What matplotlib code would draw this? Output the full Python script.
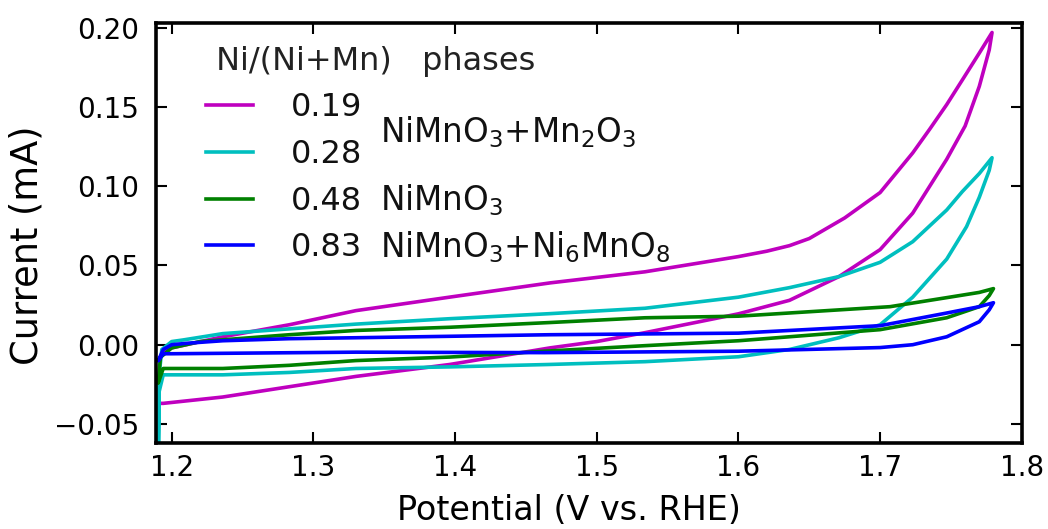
import matplotlib
matplotlib.use("Agg")
import matplotlib.pyplot as plt
from matplotlib.lines import Line2D

# ---- data ----
ratios = ["0.19", "0.28", "0.48", "0.83"]
colors = ["#bf00bf", "#00bfbf", "#008000", "#0000ff"]

# 0.19 (magenta)
m_up_v = [1.1905, 1.195, 1.20, 1.236, 1.283, 1.33, 1.396, 1.467, 1.534, 1.60, 1.62, 1.636, 1.65, 1.675, 1.70, 1.723, 1.735, 1.747, 1.758, 1.770, 1.779]
m_up_i = [-0.010, -0.004, -0.002, 0.005, 0.0126, 0.0215, 0.030, 0.039, 0.046, 0.0556, 0.059, 0.0625, 0.067, 0.080, 0.096, 0.121, 0.136, 0.1515, 0.167, 0.184, 0.197]
m_lo_v = [1.779, 1.777, 1.770, 1.760, 1.747, 1.723, 1.70, 1.671, 1.636, 1.60, 1.569, 1.534, 1.50, 1.467, 1.396, 1.33, 1.283, 1.236, 1.194, 1.1905]
m_lo_i = [0.197, 0.186, 0.163, 0.138, 0.117, 0.083, 0.060, 0.043, 0.028, 0.0195, 0.0139, 0.0076, 0.002, -0.002, -0.0125, -0.020, -0.0265, -0.033, -0.037, -0.037]

# 0.28 (cyan)
c_up_v = [1.1905, 1.191, 1.193, 1.20, 1.208, 1.236, 1.283, 1.33, 1.396, 1.467, 1.534, 1.60, 1.636, 1.671, 1.70, 1.723, 1.747, 1.758, 1.770, 1.779]
c_up_i = [-0.080, -0.020, -0.003, 0.002, 0.003, 0.007, 0.010, 0.013, 0.0164, 0.0196, 0.023, 0.030, 0.036, 0.043, 0.052, 0.065, 0.085, 0.0966, 0.108, 0.118]
c_lo_v = [1.779, 1.777, 1.770, 1.761, 1.747, 1.723, 1.70, 1.671, 1.636, 1.60, 1.534, 1.465, 1.396, 1.33, 1.283, 1.236, 1.194, 1.191, 1.1905]
c_lo_i = [0.118, 0.110, 0.093, 0.0745, 0.054, 0.030, 0.0126, 0.0044, -0.003, -0.0076, -0.0107, -0.0125, -0.014, -0.015, -0.0175, -0.019, -0.019, -0.030, -0.080]

# 0.48 (green)
g_up_v = [1.1905, 1.192, 1.20, 1.22, 1.283, 1.33, 1.396, 1.467, 1.534, 1.60, 1.707, 1.747, 1.770, 1.780]
g_up_i = [-0.024, -0.008, -0.002, 0.002, 0.0063, 0.009, 0.011, 0.014, 0.017, 0.018, 0.024, 0.0297, 0.033, 0.0354]
g_lo_v = [1.780, 1.777, 1.770, 1.747, 1.70, 1.60, 1.534, 1.465, 1.396, 1.33, 1.283, 1.236, 1.194, 1.1905]
g_lo_i = [0.0354, 0.031, 0.024, 0.017, 0.0095, 0.0025, -0.0006, -0.004, -0.0078, -0.010, -0.013, -0.015, -0.015, -0.024]

# 0.83 (blue)
b_up_v = [1.1905, 1.194, 1.20, 1.212, 1.236, 1.283, 1.33, 1.467, 1.60, 1.70, 1.747, 1.770, 1.780]
b_up_i = [-0.010, -0.003, 0.0, 0.001, 0.0025, 0.0038, 0.0044, 0.0063, 0.0073, 0.012, 0.020, 0.024, 0.0265]
b_lo_v = [1.780, 1.777, 1.770, 1.747, 1.723, 1.70, 1.60, 1.463, 1.33, 1.20, 1.194, 1.1905]
b_lo_i = [0.0265, 0.022, 0.0145, 0.005, 0.0, -0.0018, -0.0041, -0.005, -0.0047, -0.0057, -0.0057, -0.010]

phases = ["NiMnO$_3$+Mn$_2$O$_3$", "NiMnO$_3$", "NiMnO$_3$+Ni$_6$MnO$_8$"]

xticks = [1.2, 1.3, 1.4, 1.5, 1.6, 1.7, 1.8]
yticks = [-0.05, 0.00, 0.05, 0.10, 0.15, 0.20]

# ---- figure ----
plt.rcParams['font.family'] = ['DejaVu Sans']
fig = plt.figure(figsize=(10.48, 5.29), dpi=100)
ax = fig.add_axes([0.149, 0.1626, 0.826, 0.794])

curves = [
    (m_up_v + m_lo_v, m_up_i + m_lo_i),
    (c_up_v + c_lo_v, c_up_i + c_lo_i),
    (g_up_v + g_lo_v, g_up_i + g_lo_i),
    (b_up_v + b_lo_v, b_up_i + b_lo_i),
]
for (v, i), col in zip(curves, colors):
    ax.plot(v, i, color=col, lw=2.6, solid_joinstyle='round', solid_capstyle='round')

ax.set_xlim(1.189, 1.8)
ax.set_ylim(-0.062, 0.203)
ax.set_xticks(xticks)
ax.set_xticklabels([f"{t:.1f}" for t in xticks])
ax.set_yticks(yticks)
ax.set_yticklabels([f"{t:.2f}".replace("-", "\u2212") for t in yticks])
ax.tick_params(direction='in', length=8, width=1.5, top=True, right=True, labelsize=20)
ax.tick_params(axis='x', pad=8)
ax.tick_params(axis='y', pad=12)
for s in ax.spines.values():
    s.set_linewidth(2.6)
ax.set_xlabel("Potential (V vs. RHE)", fontsize=24)
ax.set_ylabel("Current (mA)", fontsize=26.5)
ax.xaxis.set_label_coords(0.477, -0.122)
ax.yaxis.set_label_coords(-0.128, 0.471)

handles = [Line2D([], [], color=c, lw=2.6) for c in colors]
leg = ax.legend(handles, ratios, title=" Ni/(Ni+Mn)   phases", loc='upper left',
                bbox_to_anchor=(0.043, 0.976), frameon=False, fontsize=23,
                title_fontsize=23, handlelength=1.47, handletextpad=1.19,
                labelspacing=0.49, alignment='left', borderaxespad=0.0)
leg.get_title().set_color('#222222')
for t in leg.get_texts():
    t.set_color('#111111')

ax.text(0.2587, 0.7167, phases[0], transform=ax.transAxes, fontsize=23.5, va='baseline', color='#111111')
ax.text(0.2587, 0.5548, phases[1], transform=ax.transAxes, fontsize=23.5, va='baseline', color='#111111')
ax.text(0.2587, 0.4429, phases[2], transform=ax.transAxes, fontsize=23.5, va='baseline', color='#111111')

fig.savefig("out.png", dpi=100)
